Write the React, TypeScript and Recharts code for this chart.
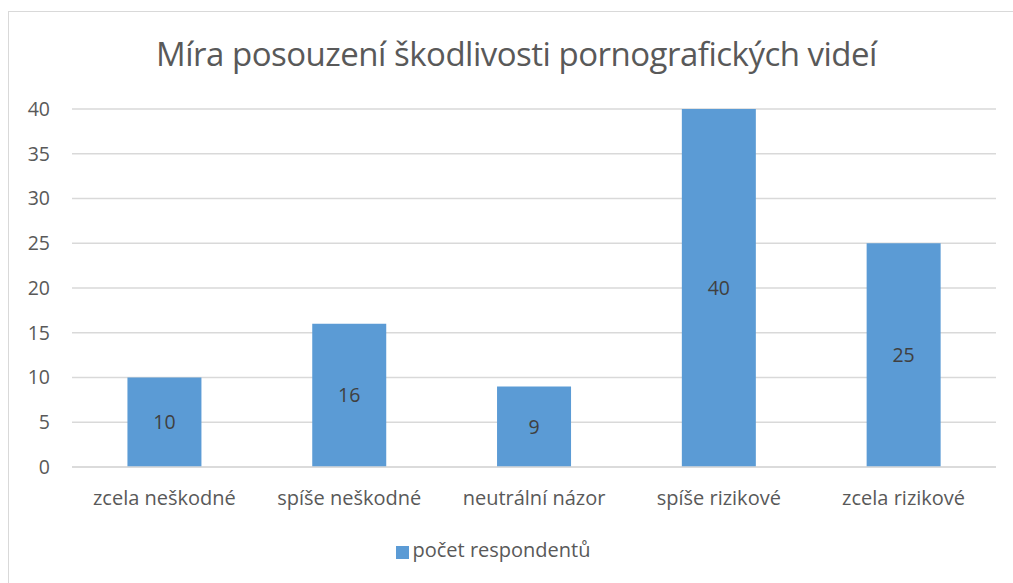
import { BarChart, Bar, XAxis, YAxis, CartesianGrid, Legend, LabelList } from "recharts";

const categories = [
  "zcela neškodné",
  "spíše neškodné",
  "neutrální názor",
  "spíše rizikové",
  "zcela rizikové",
];
const respondents = [10, 16, 9, 40, 25];
const yTicks = [0, 5, 10, 15, 20, 25, 30, 35, 40];

const data = categories.map((name, i) => ({ name, value: respondents[i] }));

const FONT = "'Open Sans', 'Noto Sans', sans-serif";

export default function App() {
  return (
    <div
      style={{
        position: "fixed",
        left: 0,
        top: 0,
        width: 1013,
        height: 583,
        background: "#fff",
        fontFamily: FONT,
      }}
    >
      {/* chart frame */}
      <div
        style={{
          position: "absolute",
          left: 8,
          top: 11,
          width: 1020,
          height: 600,
          border: "1.5px solid #d9d9d9",
        }}
      />
      <div
        style={{
          position: "absolute",
          left: 0,
          top: 31,
          width: 1033,
          textAlign: "center",
          fontSize: 33,
          color: "#595959",
          letterSpacing: -0.5,
        }}
      >
        Míra posouzení škodlivosti pornografických videí
      </div>
      <BarChart
        width={1013}
        height={583}
        data={data}
        margin={{ top: 109, right: 17, left: 0, bottom: 21 }}
        barCategoryGap="30%"
        style={{ position: "absolute", left: 0, top: 0 }}
      >
        <CartesianGrid vertical={false} stroke="#d9d9d9" strokeWidth={1.5} />
        <XAxis
          dataKey="name"
          axisLine={{ stroke: "#d9d9d9", strokeWidth: 1.5 }}
          tickLine={false}
          height={69}
          tickMargin={18}
          interval={0}
          tick={{ fontSize: 20, fill: "#595959", fontFamily: FONT }}
        />
        <YAxis
          width={72}
          domain={[0, 40]}
          ticks={yTicks}
          axisLine={false}
          tickLine={false}
          tickMargin={16}
          tick={{ fontSize: 19.5, fill: "#595959", fontFamily: FONT }}
        />
        <Legend
          verticalAlign="bottom"
          align="center"
          height={26}
          iconType="square"
          iconSize={13}
          formatter={(v: string) => (
            <span style={{ color: "#595959", fontSize: 20, fontFamily: FONT }}>{v}</span>
          )}
        />
        <Bar
          dataKey="value"
          name="počet respondentů"
          fill="#5b9bd5"
          isAnimationActive={false}
        >
          <LabelList
            dataKey="value"
            position="center"
            fill="#404040"
            fontSize={19.5}
            fontFamily={FONT}
          />
        </Bar>
      </BarChart>
    </div>
  );
}
